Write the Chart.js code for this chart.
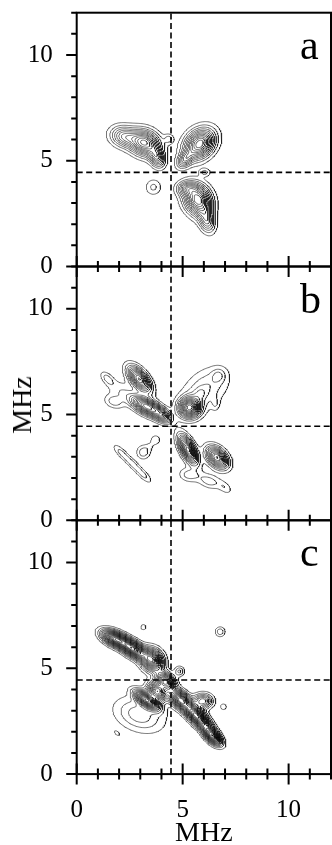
<!DOCTYPE html>
<html>
<head>
<meta charset="utf-8">
<script src="https://cdn.jsdelivr.net/npm/chart.js@4.4.1/dist/chart.umd.min.js"></script>
<style>
  html, body { margin: 0; padding: 0; background: #fff; width: 332px; height: 845px; overflow: hidden; }
  .panel { position: absolute; left: 0; width: 332px; }
  #ytitle {
    position: absolute; left: 21.7px; top: 405px;
    transform: translate(-50%, -50%) rotate(-90deg);
    font: 28px "Liberation Serif", "Times New Roman", serif; line-height: 1; white-space: nowrap; color: #000;
  }
</style>
</head>
<body>
<div class="panel" style="top:0px;height:295px"><canvas id="pa" width="332" height="295"></canvas></div>
<div class="panel" style="top:254px;height:295px"><canvas id="pb" width="332" height="295"></canvas></div>
<div class="panel" style="top:507px;height:345px"><canvas id="pc" width="332" height="345"></canvas></div>
<div id="ytitle">MHz</div>
<script>
// ---- data ---------------------------------------------------------------
const AXIS_MAX = 12;                 // both frequency axes run 0..12 MHz
const labelledTicks = [0, 5, 10];
const crossFreq = 4.45;              // dashed cross-hair position, MHz
const panelTags = ['a', 'b', 'c'];
const contourStep = 0.07;            // contour spacing (relative intensity)

// cross peaks: [nu1 MHz, nu2 MHz, width along, width across, tilt deg, intensity]
const peaksA = [
  [3.20, 5.85, 0.48, 0.38, -25, 0.85],
  [2.20, 6.15, 0.42, 0.32, -15, 0.45],
  [3.80, 5.15, 0.32, 0.22, -70, 0.50],
  [5.80, 5.80, 0.52, 0.40, 45, 0.90],
  [5.10, 5.05, 0.30, 0.20, 50, 0.40],
  [5.72, 3.15, 0.50, 0.40, -62, 0.90],
  [6.15, 2.15, 0.38, 0.24, -75, 0.40],
  [5.20, 3.70, 0.32, 0.22, 0, 0.35],
  [4.35, 6.03, 0.16, 0.16, 0, 0.16],
  [6.05, 4.45, 0.18, 0.13, 0, 0.16],
  [3.62, 3.75, 0.26, 0.26, 0, 0.16]
];
const peaksB = [
  [2.95, 6.68, 0.47, 0.24, -50, 0.85],
  [3.30, 5.38, 0.52, 0.23, -28, 0.95],
  [4.05, 4.95, 0.32, 0.20, -35, 0.45],
  [1.45, 6.70, 0.28, 0.15, -45, 0.17],
  [1.75, 5.60, 0.32, 0.20, -20, 0.17],
  [2.10, 6.10, 0.50, 0.32, -30, 0.12],
  [5.32, 5.32, 0.33, 0.31, 0, 0.95],
  [6.05, 6.20, 0.85, 0.55, 40, 0.22],
  [5.85, 6.00, 0.18, 0.18, 0, 0.10],
  [6.70, 6.85, 0.22, 0.22, 0, 0.14],
  [6.55, 5.50, 0.22, 0.13, 90, 0.10],
  [5.25, 3.35, 0.48, 0.21, -62, 0.95],
  [6.62, 2.97, 0.40, 0.26, -45, 0.85],
  [5.30, 2.15, 0.32, 0.22, -10, 0.18],
  [6.25, 1.85, 0.38, 0.22, -20, 0.18],
  [7.00, 1.55, 0.27, 0.16, -40, 0.12],
  [3.72, 3.80, 0.17, 0.17, 0, 0.13],
  [3.45, 3.50, 0.15, 0.15, 0, 0.06],
  [3.15, 3.22, 0.22, 0.22, 0, 0.20],
  [2.10, 3.20, 0.35, 0.13, -45, 0.16],
  [2.63, 2.67, 0.35, 0.13, -45, 0.16],
  [3.15, 2.15, 0.35, 0.13, -45, 0.16]
];
const peaksC = [
  [1.80, 6.40, 0.42, 0.21, -25, 1.20],
  [2.65, 5.92, 0.45, 0.22, -32, 1.30],
  [3.55, 5.40, 0.36, 0.31, -50, 1.00],
  [4.20, 4.40, 0.32, 0.23, -45, 0.90],
  [3.80, 3.90, 0.32, 0.26, -45, 0.95],
  [3.30, 3.50, 0.42, 0.18, -35, 1.10],
  [4.85, 3.55, 0.36, 0.23, -40, 1.00],
  [5.65, 2.75, 0.55, 0.21, -45, 1.30],
  [6.40, 1.80, 0.34, 0.18, -45, 1.10],
  [5.95, 3.45, 0.30, 0.23, 0, 0.55],
  [2.95, 2.80, 0.80, 0.50, -20, 0.26],
  [4.85, 4.86, 0.16, 0.16, 0, 0.23],
  [3.15, 6.95, 0.14, 0.14, 0, 0.10],
  [6.77, 6.73, 0.16, 0.16, 0, 0.20],
  [6.93, 3.18, 0.15, 0.15, 0, 0.10],
  [1.90, 1.93, 0.16, 0.08, -40, 0.09]
];

// ---- contour computation --------------------------------------------------
const GRID = 0.04;

function sampleField(peaks) {
  const n = Math.round(AXIS_MAX / GRID) + 1;
  const f = new Float64Array(n * n);
  for (const [cx, cy, su, sv, tilt, amp] of peaks) {
    const t = tilt * Math.PI / 180, c = Math.cos(t), s = Math.sin(t);
    const reach = 4.5 * Math.max(su, sv);
    const i0 = Math.max(0, Math.floor((cx - reach) / GRID)), i1 = Math.min(n - 1, Math.ceil((cx + reach) / GRID));
    const j0 = Math.max(0, Math.floor((cy - reach) / GRID)), j1 = Math.min(n - 1, Math.ceil((cy + reach) / GRID));
    for (let j = j0; j <= j1; j++) {
      const dy = j * GRID - cy;
      for (let i = i0; i <= i1; i++) {
        const dx = i * GRID - cx;
        const u = dx * c + dy * s, v = -dx * s + dy * c;
        f[j * n + i] += amp * Math.exp(-0.5 * (u * u / (su * su) + v * v / (sv * sv)));
      }
    }
  }
  return { f, n };
}

// marching squares for one level, chained into polylines
function traceLevel(f, n, L) {
  const pts = new Map();
  const adj = new Map();
  const link = (a, b) => {
    if (!adj.has(a)) adj.set(a, []);
    if (!adj.has(b)) adj.set(b, []);
    adj.get(a).push(b); adj.get(b).push(a);
  };
  const pt = (key, i0, j0, i1, j1) => {
    if (!pts.has(key)) {
      const va = f[j0 * n + i0], vb = f[j1 * n + i1];
      const t = (L - va) / (vb - va);
      pts.set(key, [(i0 + t * (i1 - i0)) * GRID, (j0 + t * (j1 - j0)) * GRID]);
    }
    return key;
  };
  for (let j = 0; j < n - 1; j++) {
    for (let i = 0; i < n - 1; i++) {
      const a = f[j * n + i], b = f[j * n + i + 1], c = f[(j + 1) * n + i + 1], d = f[(j + 1) * n + i];
      const code = (a >= L ? 1 : 0) | (b >= L ? 2 : 0) | (c >= L ? 4 : 0) | (d >= L ? 8 : 0);
      if (code === 0 || code === 15) continue;
      const B = () => pt(2 * (j * n + i), i, j, i + 1, j);
      const T = () => pt(2 * ((j + 1) * n + i), i, j + 1, i + 1, j + 1);
      const Lf = () => pt(2 * (j * n + i) + 1, i, j, i, j + 1);
      const R = () => pt(2 * (j * n + i + 1) + 1, i + 1, j, i + 1, j + 1);
      switch (code) {
        case 1: case 14: link(B(), Lf()); break;
        case 2: case 13: link(B(), R()); break;
        case 4: case 11: link(R(), T()); break;
        case 8: case 7: link(T(), Lf()); break;
        case 3: case 12: link(Lf(), R()); break;
        case 6: case 9: link(B(), T()); break;
        case 5:
          if ((a + b + c + d) / 4 >= L) { link(B(), R()); link(T(), Lf()); }
          else { link(B(), Lf()); link(R(), T()); }
          break;
        case 10:
          if ((a + b + c + d) / 4 >= L) { link(B(), Lf()); link(R(), T()); }
          else { link(B(), R()); link(T(), Lf()); }
          break;
      }
    }
  }
  const seen = new Set();
  const lines = [];
  const walk = (start) => {
    const line = [start]; seen.add(start);
    let cur = start;
    for (;;) {
      const nb = adj.get(cur).find(k => !seen.has(k));
      if (nb === undefined) break;
      seen.add(nb); line.push(nb); cur = nb;
    }
    return line;
  };
  for (const [k, v] of adj) if (v.length === 1 && !seen.has(k)) lines.push(walk(k));
  for (const k of adj.keys()) if (!seen.has(k)) { const l = walk(k); l.push(l[0]); lines.push(l); }
  return lines.map(l => l.map(k => pts.get(k)));
}

function contourData(peaks) {
  const { f, n } = sampleField(peaks);
  let top = 0;
  for (let k = 0; k < f.length; k++) if (f[k] > top) top = f[k];
  const out = [];
  for (let k = 1; k * contourStep < top; k++) {
    for (const line of traceLevel(f, n, k * contourStep)) {
      for (const [x, y] of line) out.push({ x, y });
      out.push({ x: null, y: null });
    }
  }
  return out;
}

// ---- frame, tick marks and panel letter ----------------------------------
const framePlugin = {
  id: 'frame',
  afterDatasetsDraw(chart, args, opts) {
    const { ctx, chartArea: a, scales: { x, y } } = chart;
    ctx.save();
    ctx.strokeStyle = '#000';
    ctx.lineWidth = 2;
    ctx.strokeRect(a.left, a.top, a.right - a.left, a.bottom - a.top);
    ctx.beginPath();
    for (const t of x.ticks) {
      const px = x.getPixelForValue(t.value);
      const len = t.value % 5 === 0 ? 10.5 : 5.5;
      ctx.moveTo(px, a.bottom - len); ctx.lineTo(px, a.bottom + len);
    }
    for (const t of y.ticks) {
      const py = y.getPixelForValue(t.value);
      const len = t.value % 5 === 0 ? 10.5 : 5.5;
      ctx.moveTo(a.left - len, py); ctx.lineTo(a.left, py);
    }
    ctx.stroke();
    ctx.fillStyle = '#000';
    ctx.font = '42px "Liberation Serif", "Times New Roman", serif';
    ctx.textAlign = 'left';
    ctx.textBaseline = 'alphabetic';
    ctx.fillText(opts.text, 300, a.top + 46);
    ctx.restore();
  }
};

Chart.defaults.font.family = '"Liberation Serif", "Times New Roman", serif';
Chart.defaults.color = '#000';

const PANELS = [
  { id: 'pa', height: 295, areaTop: 12.7, areaBottom: 266.5, peaks: peaksA, xLabels: false },
  { id: 'pb', height: 295, areaTop: 12.5, areaBottom: 266.3, peaks: peaksB, xLabels: false },
  { id: 'pc', height: 345, areaTop: 13.3, areaBottom: 267.1, peaks: peaksC, xLabels: true }
];

PANELS.forEach((p, idx) => {
  new Chart(document.getElementById(p.id), {
    type: 'scatter',
    data: {
      datasets: [
        { data: contourData(p.peaks), showLine: true, borderColor: '#000', borderWidth: 0.55,
          pointRadius: 0, spanGaps: false },
        { data: [{ x: crossFreq, y: 0 }, { x: crossFreq, y: AXIS_MAX }], showLine: true,
          borderColor: '#000', borderWidth: 1.6, borderDash: [6, 3.5], pointRadius: 0 },
        { data: [{ x: 0, y: crossFreq }, { x: AXIS_MAX, y: crossFreq }], showLine: true,
          borderColor: '#000', borderWidth: 1.6, borderDash: [6, 3.5], pointRadius: 0 }
      ]
    },
    options: {
      responsive: false,
      animation: false,
      events: [],
      layout: { padding: { top: p.areaTop, left: 0, right: 1, bottom: 0 } },
      plugins: {
        legend: { display: false },
        tooltip: { enabled: false },
        frame: { text: panelTags[idx] }
      },
      scales: {
        x: {
          type: 'linear', position: 'bottom', min: 0, max: AXIS_MAX,
          grid: { display: false }, border: { display: false },
          ticks: { stepSize: 1, autoSkip: false, maxRotation: 0, display: p.xLabels, padding: 13,
                   color: '#000', font: { size: 25 },
                   callback: v => labelledTicks.includes(v) ? String(v) : '' },
          title: { display: p.xLabels, text: 'MHz', color: '#000', font: { size: 28 },
                   padding: { top: 0, bottom: 1.2 } },
          afterFit: s => { s.height = p.height - p.areaBottom; s.paddingLeft = 0; s.paddingRight = 0; }
        },
        y: {
          type: 'linear', position: 'left', min: 0, max: AXIS_MAX,
          grid: { display: false }, border: { display: false },
          ticks: { stepSize: 1, autoSkip: false, padding: 16, color: '#000', font: { size: 25 },
                   callback: v => labelledTicks.includes(v) ? String(v) : '' },
          afterFit: s => { s.width = 76.7; s.paddingTop = 0; s.paddingBottom = 0; }
        }
      }
    },
    plugins: [framePlugin]
  });
});
</script>
</body>
</html>
